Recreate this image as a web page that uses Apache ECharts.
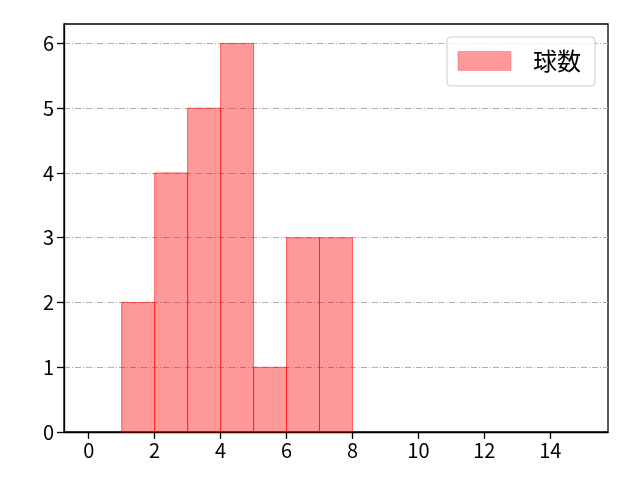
<!DOCTYPE html>
<html>
<head>
<meta charset="utf-8">
<script src="https://cdn.jsdelivr.net/npm/echarts@6/dist/echarts.min.js"></script>
<style>html,body{margin:0;padding:0;background:#fff}#c{width:640px;height:480px}</style>
</head>
<body>
<div id="c"></div>
<script>
const binLeft = [1, 2, 3, 4, 5, 6, 7];
const binRight = [2, 3, 4, 5, 6, 7, 8];
const counts = [2, 4, 5, 6, 1, 3, 3];
const xTicks = [0, 2, 4, 6, 8, 10, 12, 14];
const yTicks = [0, 1, 2, 3, 4, 5, 6];
const seriesName = '球数';

const FONT = '"Noto Sans CJK JP", "DejaVu Sans", sans-serif';
const data = binLeft.map((l, i) => [l, binRight[i], counts[i]]);

const chart = echarts.init(document.getElementById('c'));
chart.setOption({
  animation: false,
  backgroundColor: '#fff',
  textStyle: { fontFamily: FONT },
  grid: { left: 64, top: 24, right: 32, bottom: 48, show: true, borderColor: '#000', borderWidth: 1.3, backgroundColor: 'transparent' },
  legend: {
    left: 447, top: 37,
    padding: [12, 14, 13, 10.5],
    borderColor: '#cccccc', borderWidth: 1, borderRadius: 4,
    backgroundColor: 'rgba(255,255,255,0.8)',
    itemWidth: 53, itemHeight: 19,
    icon: 'rect',
    itemStyle: { color: 'rgba(255,0,0,0.4)', borderColor: 'rgba(255,0,0,0.25)', borderWidth: 1 },
    textStyle: { fontSize: 24, color: '#000', fontFamily: FONT, padding: [0, 0, 0, 17] },
    data: [seriesName]
  },
  xAxis: {
    type: 'value', min: -0.75, max: 15.75,
    axisLine: { show: true, onZero: false, lineStyle: { color: '#000', width: 1.3 } },
    axisTick: { show: true, length: 7, customValues: xTicks, lineStyle: { color: '#000', width: 1.3 } },
    axisLabel: { customValues: xTicks, fontSize: 20, color: '#000', margin: 8, fontFamily: FONT },
    splitLine: { show: false }
  },
  yAxis: {
    type: 'value', min: 0, max: 6.3, interval: 1,
    axisLine: { show: true, onZero: false, lineStyle: { color: '#000', width: 1.3 } },
    axisTick: { show: true, length: 7, customValues: yTicks, lineStyle: { color: '#000', width: 1.3 } },
    axisLabel: { customValues: yTicks, fontSize: 20, color: '#000', margin: 10, fontFamily: FONT },
    splitLine: { show: true, lineStyle: { color: '#b0b0b0', width: 1, type: [6, 2, 1, 2] } }
  },
  series: [{
    name: seriesName,
    type: 'custom',
    itemStyle: { color: 'rgba(255,0,0,0.4)', borderColor: 'rgba(255,0,0,0.55)', borderWidth: 1 },
    renderItem: function (params, api) {
      const p0 = api.coord([api.value(0), api.value(2)]);
      const p1 = api.coord([api.value(1), 0]);
      return {
        type: 'rect',
        shape: { x: p0[0], y: p0[1], width: p1[0] - p0[0], height: p1[1] - p0[1] },
        style: { fill: 'rgba(255,0,0,0.4)', stroke: 'rgba(255,0,0,0.55)', lineWidth: 1 }
      };
    },
    encode: { x: [0, 1], y: 2 },
    data: data
  }]
});
</script>
</body>
</html>
